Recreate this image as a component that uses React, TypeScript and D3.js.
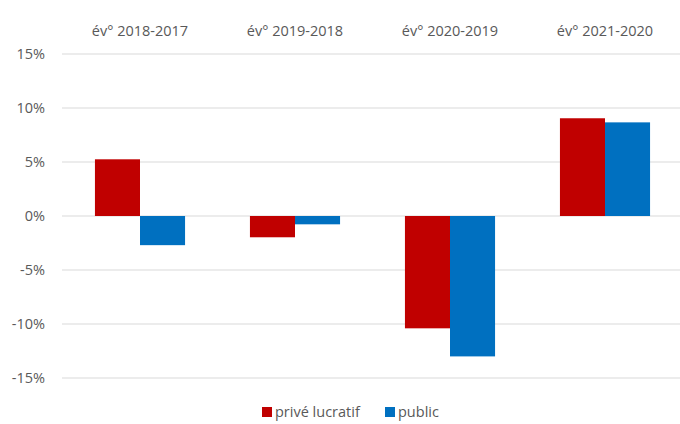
import React from "react";
import * as d3 from "d3";

const categories = ["év° 2018-2017", "év° 2019-2018", "év° 2020-2019", "év° 2021-2020"];
const seriesNames = ["privé lucratif", "public"];
const priveLucratif = [5.25, -1.97, -10.4, 9.05];
const publicValues = [-2.7, -0.77, -13.0, 8.67];
const yTicks = [-15, -10, -5, 0, 5, 10, 15];
const colors = ["#c00000", "#0070c0"];

const W = 680, H = 424;
const FONT = "'Open Sans', sans-serif";
const FS = 14.5;

export default function App() {
  const x = d3.scaleBand<string>().domain(categories).range([62.5, 682.5]).paddingInner(0).paddingOuter(0);
  const x1 = d3.scaleBand<string>().domain(seriesNames).range([0, x.bandwidth()]).paddingInner(0).paddingOuter(0.72);
  const y = d3.scaleLinear().domain([-15, 15]).range([378, 54]);
  const series = [priveLucratif, publicValues];

  return (
    <svg width={W} height={H} style={{ position: "absolute", left: 0, top: 0, background: "#fff" }}>
      {yTicks.map((t) => (
        <g key={t}>
          <line x1={62} x2={680} y1={y(t)} y2={y(t)} stroke="#d9d9d9" strokeWidth={1} />
          <text x={45} y={y(t)} dy="0.35em" textAnchor="end" fontSize={FS} fill="#595959" fontFamily={FONT}>
            {`${t}%`}
          </text>
        </g>
      ))}
      {categories.map((c) => (
        <text key={c} x={(x(c) as number) + x.bandwidth() / 2} y={31} dy="0.35em" textAnchor="middle" fontSize={FS} fill="#595959" fontFamily={FONT}>
          {c}
        </text>
      ))}
      {series.map((vals, si) =>
        vals.map((v, i) => {
          const bx = (x(categories[i]) as number) + (x1(seriesNames[si]) as number);
          return (
            <rect key={`${si}-${i}`} x={bx} width={x1.bandwidth()} y={Math.min(y(v), y(0))} height={Math.abs(y(v) - y(0))} fill={colors[si]} />
          );
        })
      )}
      <g fontFamily={FONT} fontSize={FS} fill="#595959">
        <rect x={262} y={407} width={10} height={10} fill={colors[0]} />
        <text x={275} y={412} dy="0.35em">{seriesNames[0]}</text>
        <rect x={385} y={407} width={10} height={10} fill={colors[1]} />
        <text x={398} y={412} dy="0.35em">{seriesNames[1]}</text>
      </g>
    </svg>
  );
}
